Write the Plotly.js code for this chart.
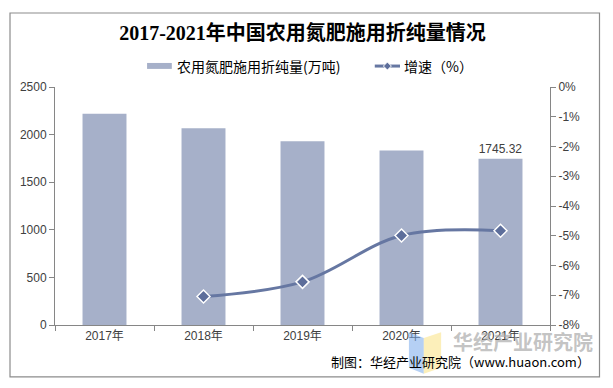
<!DOCTYPE html>
<html><head><meta charset="utf-8">
<script src="https://cdn.plot.ly/plotly-3.0.1.min.js"></script>
<style>html,body{margin:0;padding:0;background:#fff;}#chart{width:613px;height:388px;}</style>
</head><body><div id="chart"></div>
<script>
const categories = ['2017年','2018年','2019年','2020年','2021年'];
const amount = [2219.8, 2065.4, 1930.2, 1833.9, 1745.32];
const growthYears = ['2018年','2019年','2020年','2021年'];
const growth = [-0.0704, -0.0655, -0.0499, -0.0483];
const leftTicks = [0, 500, 1000, 1500, 2000, 2500];
const rightTickVals = [0, -0.01, -0.02, -0.03, -0.04, -0.05, -0.06, -0.07, -0.08];
const rightTickText = ['0%','-1%','-2%','-3%','-4%','-5%','-6%','-7%','-8%'];
const seriesNames = ['农用氮肥施用折纯量(万吨)', '增速（%）'];
const barLabels = amount.map((v, i) => i === amount.length - 1 ? v.toFixed(2) : '');

const font = 'Liberation Sans, Arial, Noto Sans CJK SC, sans-serif';
const axisColor = '#868686';
const tickColor = '#404040';
const barColor = '#A6B0C9';
const lineColor = '#6677A2';

const bars = {
  type: 'bar', x: categories, y: amount, name: seriesNames[0],
  marker: {color: barColor}, text: barLabels, textposition: 'outside',
  textfont: {family: font, size: 12, color: '#404040'}, cliponaxis: false,
  hoverinfo: 'skip'
};
const line = {
  type: 'scatter', mode: 'lines+markers', x: growthYears, y: growth, yaxis: 'y2',
  name: seriesNames[1], line: {color: lineColor, width: 3, shape: 'spline', smoothing: 1},
  marker: {symbol: 'diamond', size: 10, color: '#5D6E9B', line: {color: '#ffffff', width: 1.5}},
  hoverinfo: 'skip'
};

const layout = {
  width: 613, height: 388,
  margin: {l: 55, r: 63, t: 87, b: 63},
  paper_bgcolor: '#ffffff', plot_bgcolor: '#ffffff',
  bargap: 0.556,
  showlegend: false,
  title: {text: '<b>2017-2021年中国农用氮肥施用折纯量情况</b>',
    font: {family: 'Liberation Serif, Noto Sans CJK SC, serif', size: 20, color: '#000000'},
    x: 0.5, xref: 'paper', xanchor: 'center', y: 0.915, yanchor: 'middle'},
  xaxis: {type: 'category', showline: true, linecolor: axisColor, linewidth: 1,
    ticks: 'outside', tickson: 'boundaries', ticklen: 5, tickcolor: axisColor,
    tickfont: {family: font, size: 12, color: tickColor}, showgrid: false, zeroline: false, fixedrange: true},
  yaxis: {range: [0, 2500], tickvals: leftTicks, showline: true, linecolor: axisColor, linewidth: 1,
    ticks: 'outside', ticklen: 5, tickcolor: axisColor, showgrid: false, zeroline: false,
    tickfont: {family: font, size: 12, color: tickColor}},
  yaxis2: {range: [-0.08, 0], overlaying: 'y', side: 'right', tickvals: rightTickVals, ticktext: rightTickText,
    showline: true, linecolor: axisColor, linewidth: 1, ticks: 'outside', ticklen: 5, tickcolor: axisColor,
    showgrid: false, zeroline: false, tickfont: {family: font, size: 12, color: tickColor}},
  shapes: [
    {type: 'rect', xref: 'paper', yref: 'paper', x0: -0.0909, x1: 1.1, y0: -0.218, y1: 1.311,
      line: {color: '#8c8c8c', width: 1.2}, fillcolor: 'rgba(0,0,0,0)', layer: 'below'},
    // legend swatches
    {type: 'rect', xref: 'paper', yref: 'paper', x0: 0.186, x1: 0.236, y0: 1.076, y1: 1.101,
      fillcolor: barColor, line: {width: 0}},
    {type: 'line', xref: 'paper', yref: 'paper', x0: 0.646, x1: 0.697, y0: 1.088, y1: 1.088,
      line: {color: lineColor, width: 3}},
    {type: 'path', xref: 'paper', yref: 'paper',
      path: 'M 0.6715 1.105 L 0.6795 1.088 L 0.6715 1.071 L 0.6635 1.088 Z',
      fillcolor: '#5D6E9B', line: {color: '#ffffff', width: 1}},
    // watermark logo
    {type: 'path', xref: 'paper', yref: 'paper', path: 'M 0.715 -0.03 L 0.745 -0.055 L 0.745 -0.205 L 0.715 -0.18 Z',
      fillcolor: 'rgba(120,170,235,0.55)', line: {width: 0}, layer: 'above'},
    {type: 'path', xref: 'paper', yref: 'paper', path: 'M 0.745 -0.055 L 0.78 -0.03 L 0.78 -0.18 L 0.745 -0.205 Z',
      fillcolor: 'rgba(250,225,130,0.55)', line: {width: 0}, layer: 'above'}
  ],
  annotations: [
    {text: seriesNames[0], xref: 'paper', yref: 'paper', x: 0.242, xanchor: 'left', y: 1.088, yanchor: 'middle',
      showarrow: false, font: {family: 'Noto Sans CJK SC, sans-serif', size: 14, color: '#000000'}},
    {text: seriesNames[1], xref: 'paper', yref: 'paper', x: 0.701, xanchor: 'left', y: 1.088, yanchor: 'middle',
      showarrow: false, font: {family: 'Noto Sans CJK SC, sans-serif', size: 14, color: '#000000'}},
    {text: '<b>华经产业研究院</b>', xref: 'paper', yref: 'paper', x: 1.09, xanchor: 'right', y: -0.07, yanchor: 'middle',
      showarrow: false, font: {family: 'Noto Sans CJK SC, sans-serif', size: 20, color: 'rgba(170,170,170,0.7)'}},
    {text: '制图：华经产业研究院（www.huaon.com）', xref: 'paper', yref: 'paper', x: 1.085, xanchor: 'right', y: -0.155, yanchor: 'middle',
      showarrow: false, font: {family: 'Noto Sans CJK SC, sans-serif', size: 13, color: '#000000'}}
  ]
};

Plotly.newPlot('chart', [bars, line], layout, {displayModeBar: false, staticPlot: true});
</script></body></html>
